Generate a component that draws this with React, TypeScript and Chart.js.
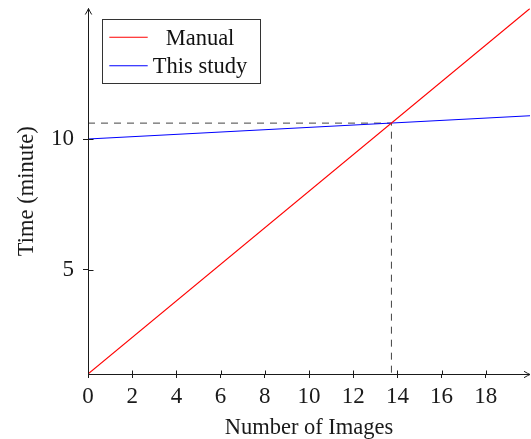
import React, { useEffect, useRef } from "react";
import { Chart, registerables } from "chart.js";

Chart.register(...registerables);

// ---- data ----
const numImages = [0, 20];
const manualTime = [1, 15];
const studyTime = [10, 10.89];
const seriesLabels = ["Manual", "This study"];
const seriesColors = ["#ff0000", "#0000ff"];
const crossX = 13.73;
const crossY = 10.61;
const xTickStep = 2;
const xTickHidden = [20];
const yTickValues = [5, 10];
const xTitle = "Number of Images";
const yTitle = "Time (minute)";

const FONT = "Liberation Serif";
const INK = "#1a1a1a";

const axisPlugin = {
  id: "axisDecor",
  afterDatasetsDraw(chart: any) {
    const { ctx, chartArea, scales } = chart;
    const xs = scales.x;
    const ys = scales.y;
    const ax = Math.round(chartArea.left) + 0.5;
    const ay = Math.round(chartArea.bottom) + 0.5;
    ctx.save();
    ctx.strokeStyle = INK;
    ctx.lineWidth = 1;
    // axis lines
    ctx.beginPath();
    ctx.moveTo(ax, ay);
    ctx.lineTo(chartArea.right, ay);
    ctx.moveTo(ax, ay);
    ctx.lineTo(ax, chartArea.top);
    ctx.stroke();
    // arrows
    const tipX = chartArea.right;
    const tipY = chartArea.top;
    ctx.beginPath();
    ctx.moveTo(tipX - 6, ay - 3.2);
    ctx.quadraticCurveTo(tipX - 2, ay - 0.8, tipX, ay);
    ctx.quadraticCurveTo(tipX - 2, ay + 0.8, tipX - 6, ay + 3.2);
    ctx.moveTo(ax - 3.2, tipY + 6);
    ctx.quadraticCurveTo(ax - 0.8, tipY + 2, ax, tipY);
    ctx.quadraticCurveTo(ax + 0.8, tipY + 2, ax + 3.2, tipY + 6);
    ctx.stroke();
    // inner tick parts
    ctx.beginPath();
    xs.ticks.forEach((t: any) => {
      if (xTickHidden.includes(t.value)) return;
      const px = Math.round(xs.getPixelForValue(t.value)) + 0.5;
      ctx.moveTo(px, ay);
      ctx.lineTo(px, ay - 4);
    });
    ys.ticks.forEach((t: any) => {
      const py = Math.round(ys.getPixelForValue(t.value)) + 0.5;
      ctx.moveTo(ax, py);
      ctx.lineTo(ax + 5, py);
    });
    ctx.stroke();
    ctx.restore();
  },
  afterDraw(chart: any) {
    const { ctx, chartArea } = chart;
    const bx = chartArea.left + 13.7;
    const by = chartArea.top + 10.5;
    const bw = 157.6;
    const bh = 64;
    ctx.save();
    ctx.fillStyle = "#ffffff";
    ctx.fillRect(bx, by, bw, bh);
    ctx.strokeStyle = "#333333";
    ctx.lineWidth = 1;
    ctx.strokeRect(Math.round(bx) + 0.5, Math.round(by) + 0.5, Math.round(bw), Math.round(bh));
    const entries = chart.data.datasets.filter((d: any) => !d.hideInLegend);
    ctx.font = `22.5px "${FONT}"`;
    ctx.textAlign = "center";
    ctx.textBaseline = "alphabetic";
    entries.forEach((d: any, i: number) => {
      const cy = by + 18.3 + i * 28.4;
      ctx.strokeStyle = d.borderColor;
      ctx.lineWidth = 1.1;
      ctx.beginPath();
      ctx.moveTo(bx + 7.6, cy);
      ctx.lineTo(bx + 46, cy);
      ctx.stroke();
      ctx.fillStyle = "#111111";
      ctx.fillText(d.label, bx + 98.3, cy + 7.2);
    });
    ctx.restore();
  },
};

export default function App() {
  const ref = useRef<HTMLCanvasElement | null>(null);
  useEffect(() => {
    if (!ref.current) return;
    const chart = new Chart(ref.current, {
      type: "line",
      data: {
        datasets: [
          {
            label: seriesLabels[0],
            data: numImages.map((x, i) => ({ x, y: manualTime[i] })),
            borderColor: seriesColors[0],
            borderWidth: 1.1,
            pointRadius: 0,
          },
          {
            label: seriesLabels[1],
            data: numImages.map((x, i) => ({ x, y: studyTime[i] })),
            borderColor: seriesColors[1],
            borderWidth: 1.1,
            pointRadius: 0,
          },
          {
            label: "crossing",
            hideInLegend: true,
            data: [
              { x: numImages[0], y: crossY },
              { x: crossX, y: crossY },
              { x: crossX, y: manualTime[0] },
            ],
            borderColor: "#444444",
            borderWidth: 1,
            borderDash: [7, 6],
            pointRadius: 0,
          } as any,
        ],
      },
      options: {
        responsive: false,
        animation: false,
        layout: { padding: { left: 0, right: 1, top: 8.5, bottom: 0 } },
        plugins: { legend: { display: false }, tooltip: { enabled: false } },
        scales: {
          x: {
            type: "linear",
            min: 0,
            max: 20,
            ticks: {
              stepSize: xTickStep,
              autoSkip: false,
              maxRotation: 0,
              padding: 5,
              color: INK,
              font: { family: FONT, size: 23 },
              callback: (v: any) => (xTickHidden.includes(Number(v)) ? null : String(v)),
            },
            grid: { display: true, drawOnChartArea: false, drawTicks: true, tickLength: 4, color: INK, lineWidth: 1 },
            border: { display: false },
            title: { display: true, text: xTitle, color: INK, font: { family: FONT, size: 22.5 }, padding: { top: 0, bottom: -3 } },
            afterFit: (s: any) => {
              s.height = 65;
              s.paddingLeft = 0;
              s.paddingRight = 0;
            },
          },
          y: {
            type: "linear",
            min: 1,
            max: 15,
            afterBuildTicks: (s: any) => {
              s.ticks = yTickValues.map((v) => ({ value: v }));
            },
            ticks: {
              padding: 9,
              color: INK,
              font: { family: FONT, size: 23 },
              callback: (v: any) => String(v),
            },
            grid: { display: true, drawOnChartArea: false, drawTicks: true, tickLength: 5, color: INK, lineWidth: 1 },
            border: { display: false },
            title: { display: true, text: yTitle, color: INK, font: { family: FONT, size: 22.5 }, padding: { top: 14, bottom: 0 } },
            afterFit: (s: any) => {
              s.width = 88;
              s.paddingTop = 0;
              s.paddingBottom = 0;
            },
          },
        },
      },
      plugins: [axisPlugin],
    });
    return () => chart.destroy();
  }, []);
  return (
    <div style={{ position: "absolute", left: 0, top: 0, width: 531, height: 439, background: "#fff" }}>
      <canvas ref={ref} width={531} height={439} style={{ display: "block" }} />
    </div>
  );
}
